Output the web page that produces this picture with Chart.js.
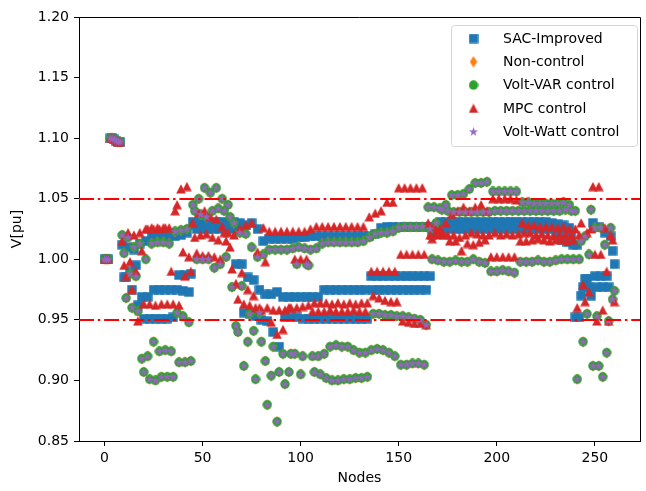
<!DOCTYPE html>
<html><head><meta charset="utf-8">
<script src="https://cdn.jsdelivr.net/npm/chart.js@4.4.1/dist/chart.umd.min.js"></script>
<style>html,body{margin:0;padding:0;background:#fff}#wrap{width:646px;height:491px}</style>
</head><body><div id="wrap"><canvas id="c" width="646" height="491"></canvas></div>
<script>
// ---------- data ----------
const xTicks=[0,50,100,150,200,250];
const yTicks=[0.85,0.90,0.95,1.00,1.05,1.10,1.15,1.20];
const limitUpper=1.05, limitLower=0.95;
const seriesNames=['SAC-Improved','Non-control','Volt-VAR control','MPC control','Volt-Watt control'];
// substation / regulator nodes 0..8 (identical for every series)
const headNodes=[0,1,2,3,4,5,6,7,8];
const headVoltage=[1.000,1.000,1.000,1.100,1.100,1.099,1.098,1.097,1.097];
// phase node groups: A = 9,12,15..  B = 10,13,16..  C = 11,14,17..
const phaseFirstNode={A:9,B:10,C:11};
const phaseStep=3;

const sacA=[1.012,1.010,1.008,1.013,1.015,1.019,1.019,1.019,1.019,1.019,
1.020,1.022,1.031,1.031,1.031,1.030,1.031,1.031,1.030,1.031,
1.030,1.028,1.030,1.025,1.015,1.017,1.017,1.017,1.017,1.017,
1.018,1.018,1.019,1.019,1.019,1.019,1.019,1.019,1.019,1.019,
1.019,1.019,1.019,1.021,1.026,1.027,1.027,1.027,1.027,1.027,
1.027,1.027,1.027,1.027,1.031,1.031,1.031,1.031,1.031,1.031,
1.031,1.031,1.031,1.031,1.031,1.031,1.031,1.031,1.031,1.031,
1.031,1.031,1.031,1.030,1.029,1.028,1.026,0.952,0.970,0.984,
1.030,1.027,1.022,1.019];
const sacB=[0.985,0.990,0.995,0.969,0.969,0.975,0.975,0.975,0.975,0.975,
0.974,0.973,1.028,1.028,1.028,1.028,1.028,1.028,1.028,0.996,
0.996,0.985,0.983,0.975,0.971,0.971,0.973,0.969,0.969,0.969,
0.969,0.969,0.969,0.969,0.975,0.975,0.975,0.975,0.975,0.975,
0.975,0.975,0.986,0.986,0.986,0.986,0.986,0.986,0.986,0.986,
0.986,0.986,0.986,1.025,1.028,1.028,1.028,1.028,1.028,1.028,
1.028,1.028,1.028,1.028,1.028,1.028,1.028,1.028,1.028,1.028,
1.028,1.028,1.028,1.027,1.025,1.022,1.020,1.012,0.977,0.977,
0.986,0.986,0.986,1.007];
const sacC=[0.985,0.975,0.962,0.951,0.951,0.951,0.951,0.951,0.952,0.987,
0.987,0.988,1.025,1.025,1.025,1.025,1.025,1.025,1.025,1.025,
0.956,0.955,0.953,0.950,0.949,0.940,0.928,0.952,0.952,0.952,
0.951,0.951,0.951,0.951,0.951,0.951,0.951,0.951,0.951,0.951,
0.951,0.951,0.975,0.975,0.975,0.975,0.975,0.975,0.975,0.975,
0.975,0.975,1.020,1.025,1.025,1.025,1.025,1.025,1.025,1.025,
1.025,1.025,1.025,1.025,1.025,1.025,1.025,1.025,1.025,1.025,
1.025,1.025,1.025,1.020,1.016,1.014,1.012,0.952,0.984,0.970,
0.977,0.977,0.977,0.996];

const nonControlA=[1.020,1.018,1.010,1.013,1.000,1.013,1.014,1.014,1.013,1.023,
1.024,1.025,1.045,1.050,1.059,1.055,1.059,1.050,1.045,1.030,
1.022,1.021,1.010,1.002,1.004,1.008,1.008,1.008,1.008,1.009,
1.010,1.009,1.008,1.009,1.013,1.014,1.014,1.014,1.014,1.014,
1.014,1.015,1.018,1.021,1.022,1.022,1.023,1.026,1.027,1.027,
1.027,1.027,1.043,1.043,1.042,1.045,1.053,1.053,1.054,1.058,
1.063,1.063,1.064,1.056,1.056,1.056,1.056,1.056,1.047,1.047,
1.046,1.046,1.046,1.046,1.046,1.047,1.045,1.040,1.015,0.955,
0.912,0.912,1.012,1.026];
const nonControlB=[1.005,0.988,0.986,0.918,0.920,0.932,0.924,0.925,0.924,0.956,
0.953,0.948,1.040,1.037,1.035,1.040,1.042,1.040,1.035,0.945,
0.978,0.932,0.941,0.956,0.916,0.904,0.866,0.922,0.907,0.922,
0.905,0.996,0.920,0.920,0.922,0.928,0.929,0.928,0.928,0.925,
0.923,0.923,0.925,0.926,0.925,0.923,0.920,0.913,0.913,0.914,
0.914,0.913,1.025,1.030,1.041,1.040,1.039,1.039,1.039,1.039,
1.039,1.039,1.039,1.040,1.040,1.040,1.040,1.040,1.040,1.040,
1.040,1.040,1.040,1.040,1.040,1.041,1.040,0.901,0.932,1.004,
1.026,1.026,0.923,0.967];
const nonControlC=[0.968,0.960,0.957,0.907,0.901,0.900,0.903,0.903,0.903,0.915,
0.915,0.916,1.000,1.000,1.000,0.993,0.996,1.002,0.977,0.940,
0.912,0.955,0.901,0.932,0.880,0.928,0.907,0.897,0.922,0.996,
0.920,0.995,0.907,0.905,0.902,0.900,0.900,0.901,0.901,0.902,
0.902,0.903,0.955,0.955,0.954,0.954,0.953,0.953,0.952,0.951,
0.950,0.946,1.000,0.999,0.998,0.998,0.999,0.998,0.998,1.000,
0.998,0.997,0.990,0.990,0.991,0.990,0.989,0.998,0.998,0.998,
0.999,0.998,0.998,0.999,1.000,1.000,1.000,1.000,1.019,1.041,
0.953,0.903,0.949,0.974];
// Volt-VAR and Volt-Watt points sit exactly on the Non-control points in the figure
const voltVarA=nonControlA, voltVarB=nonControlB, voltVarC=nonControlC;
const voltWattA=nonControlA, voltWattB=nonControlB, voltWattC=nonControlC;

const mpcA=[1.015,1.022,1.020,1.022,1.025,1.026,1.026,1.026,1.026,1.040,
1.058,1.060,1.030,1.038,1.040,1.035,1.033,1.027,1.022,1.020,
1.025,1.028,1.030,1.006,1.026,1.023,1.023,1.023,1.023,1.023,
1.023,1.023,1.025,1.027,1.027,1.027,1.027,1.027,1.027,1.027,
1.027,1.027,1.035,1.038,1.040,1.047,1.047,1.059,1.059,1.059,
1.059,1.059,1.030,1.027,1.025,1.030,1.037,1.040,1.043,1.040,
1.043,1.045,1.040,1.050,1.050,1.050,1.050,1.049,1.030,1.028,
1.028,1.027,1.027,1.027,1.026,1.027,1.025,1.025,1.030,1.022,
1.060,1.060,1.026,1.020];
const mpcB=[0.995,0.998,0.990,1.007,1.025,1.025,1.025,1.026,0.990,1.045,
1.006,1.002,1.018,1.020,1.021,1.018,1.016,1.022,1.010,0.980,
0.989,0.975,0.970,0.960,0.998,0.948,0.938,0.942,0.960,1.000,
1.000,1.000,0.957,0.957,0.957,0.958,0.957,0.957,0.957,0.958,
0.957,0.957,0.990,0.990,0.990,0.990,0.990,1.004,1.004,1.004,
1.004,1.004,1.020,1.022,1.022,1.020,1.020,1.018,1.020,1.022,
1.021,1.020,1.020,1.022,1.020,1.021,1.020,1.021,1.022,1.022,
1.020,1.021,1.020,1.019,1.020,1.020,1.020,0.960,0.979,0.973,
1.004,1.004,0.990,1.016];
const mpcC=[0.986,0.975,0.949,0.963,0.963,0.962,0.963,0.963,0.963,0.962,
0.986,0.990,1.005,1.003,1.003,1.002,1.000,1.015,0.992,0.967,
0.963,0.962,0.960,0.958,0.960,0.958,0.958,0.958,0.960,0.960,
0.961,0.962,0.964,0.964,0.964,0.963,0.964,0.963,0.964,0.963,
0.964,0.964,0.970,0.968,0.966,0.965,0.965,0.949,0.948,0.947,
0.947,0.946,1.017,1.020,1.020,1.015,1.015,1.007,1.013,1.012,
1.014,1.016,1.002,1.002,1.002,1.002,1.002,1.015,1.015,1.016,
1.017,1.016,1.015,1.016,1.016,1.015,1.016,1.020,0.965,1.025,
0.949,0.958,0.949,0.965];

// ---------- build points ----------
function buildPoints(a,b,c){
  const pts=headNodes.map((n,i)=>({x:n,y:headVoltage[i]}));
  [[a,'A'],[b,'B'],[c,'C']].forEach(([arr,ph])=>{
    arr.forEach((v,i)=>pts.push({x:phaseFirstNode[ph]+phaseStep*i,y:v}));
  });
  return pts;
}

// ---------- marker glyphs ----------
function glyph(w,h,color,path){
  const c=document.createElement('canvas');c.width=w;c.height=h;
  const g=c.getContext('2d');g.fillStyle=color;g.beginPath();path(g);g.closePath();g.fill();return c;
}
const mkSquare=glyph(10,10,'#1f77b4',g=>{g.rect(0.3,0.3,9.4,9.4);});
const mkDiamond=glyph(8,12,'#ff7f0e',g=>{g.moveTo(4,0.2);g.lineTo(7.7,6);g.lineTo(4,11.8);g.lineTo(0.3,6);});
const mkCircle=glyph(10,10,'#2ca02c',g=>{g.arc(5,5,4.7,0,Math.PI*2);});
const mkTriangle=glyph(10,10,'#d62728',g=>{g.moveTo(5,0.2);g.lineTo(9.8,9.6);g.lineTo(0.2,9.6);});
const mkStar=glyph(11,11,'#9467bd',g=>{
  const cx=5.5,cy=5.7,R=4.9,r=R*0.382;
  for(let k=0;k<10;k++){const ang=-Math.PI/2+k*Math.PI/5;const rr=k%2?r:R;
    const px=cx+rr*Math.cos(ang),py=cy+rr*Math.sin(ang);k?g.lineTo(px,py):g.moveTo(px,py);}
});
const glyphs=[mkSquare,mkDiamond,mkCircle,mkTriangle,mkStar];

const datasets=[
 {label:seriesNames[0],data:buildPoints(sacA,sacB,sacC),pointStyle:mkSquare,order:5},
 {label:seriesNames[1],data:buildPoints(nonControlA,nonControlB,nonControlC),pointStyle:mkDiamond,order:4},
 {label:seriesNames[2],data:buildPoints(voltVarA,voltVarB,voltVarC),pointStyle:mkCircle,order:3},
 {label:seriesNames[3],data:buildPoints(mpcA,mpcB,mpcC),pointStyle:mkTriangle,order:2},
 {label:seriesNames[4],data:buildPoints(voltWattA,voltWattB,voltWattC),pointStyle:mkStar,order:1}
].map(d=>Object.assign(d,{pointRadius:5,pointHoverRadius:5,showLine:false}));

// ---------- decorations ----------
const deco={id:'deco',
 afterDatasetsDraw(chart){
  const {ctx,chartArea:a,scales:{y}}=chart;
  ctx.save();ctx.strokeStyle='#ff0000';ctx.lineWidth=2.2;ctx.setLineDash([15,3.8,2.5,3.8]);
  [limitUpper,limitLower].forEach(v=>{const py=Math.round(y.getPixelForValue(v));
    ctx.beginPath();ctx.moveTo(a.left,py);ctx.lineTo(a.right,py);ctx.stroke();});
  ctx.restore();
 },
 afterDraw(chart){
  const {ctx,chartArea:a}=chart;
  ctx.save();ctx.strokeStyle='#000';ctx.lineWidth=1;
  ctx.beginPath();ctx.moveTo(a.left,a.top+0.5);ctx.lineTo(a.right+0.5,a.top+0.5);ctx.lineTo(a.right+0.5,a.bottom);ctx.stroke();
  // legend box
  const bx=451.5,by=25.5,bw=186,bh=121,r=3;
  ctx.fillStyle='rgba(255,255,255,0.8)';ctx.strokeStyle='#d6d6d6';ctx.lineWidth=1;
  ctx.beginPath();ctx.moveTo(bx+r,by);ctx.lineTo(bx+bw-r,by);ctx.arcTo(bx+bw,by,bx+bw,by+r,r);
  ctx.lineTo(bx+bw,by+bh-r);ctx.arcTo(bx+bw,by+bh,bx+bw-r,by+bh,r);ctx.lineTo(bx+r,by+bh);
  ctx.arcTo(bx,by+bh,bx,by+bh-r,r);ctx.lineTo(bx,by+r);ctx.arcTo(bx,by,bx+r,by,r);ctx.closePath();
  ctx.fill();ctx.stroke();
  ctx.fillStyle='#000';ctx.font='14px "DejaVu Sans"';ctx.textBaseline='middle';ctx.textAlign='left';
  seriesNames.forEach((name,i)=>{const cy=38.5+i*23.3;const gimg=glyphs[i];
    ctx.drawImage(gimg,473.5-gimg.width/2,cy-gimg.height/2);
    ctx.fillText(name,503,cy+0.5);});
  ctx.restore();
 }};

const axisFont={family:'DejaVu Sans',size:14};
new Chart(document.getElementById('c'),{type:'scatter',data:{datasets},
options:{responsive:false,animation:false,events:[],layout:{padding:{left:0,right:1,top:17,bottom:0}},
plugins:{legend:{display:false},tooltip:{enabled:false}},
scales:{
 x:{type:'linear',min:-13,max:273,afterBuildTicks:s=>{s.ticks=xTicks.map(v=>({value:v}))},afterFit:s=>{s.height=50},
  grid:{drawOnChartArea:false,color:'#000',tickLength:5},border:{color:'#000'},
  ticks:{color:'#000',font:axisFont,padding:4,maxRotation:0},
  title:{display:true,text:'Nodes',color:'#000',font:axisFont,padding:{top:0,bottom:4}}},
 y:{min:0.85,max:1.2,afterBuildTicks:s=>{s.ticks=yTicks.map(v=>({value:v}))},afterFit:s=>{s.width=79},
  grid:{drawOnChartArea:false,color:'#000',tickLength:5},border:{color:'#000'},
  ticks:{color:'#000',font:axisFont,padding:5,callback:v=>v.toFixed(2)},
  title:{display:true,text:'V[pu]',color:'#000',font:axisFont,padding:{top:9,bottom:0}}}}},
plugins:[deco]});
</script></body></html>
